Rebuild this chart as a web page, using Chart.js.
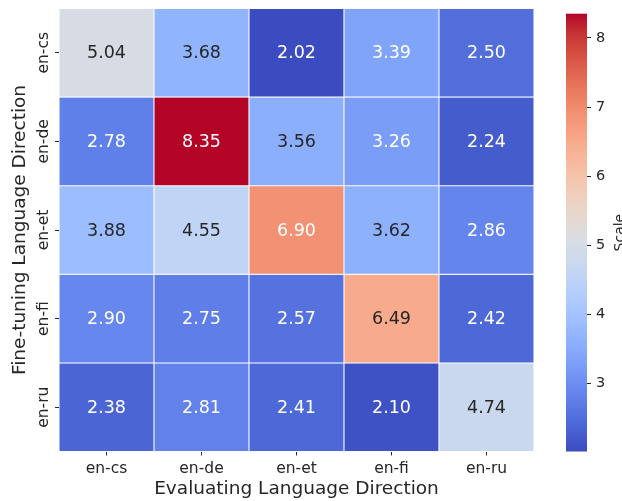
<!DOCTYPE html>
<html>
<head>
<meta charset="utf-8">
<script src="https://cdn.jsdelivr.net/npm/chart.js@4.4.1/dist/chart.umd.min.js"></script>
<style>
    html, body { margin: 0; padding: 0; background: #fff; }
    #wrap { position: relative; width: 622px; height: 501px; }
    #wrap canvas { position: absolute; left: 0; top: 0; }
</style>
</head>
<body>
<div id="wrap">
    <canvas id="heat" width="622" height="501"></canvas>
    <canvas id="cbar" width="622" height="501"></canvas>
</div>
<script>
(function () {
    // rows: fine-tuning direction, columns: evaluating direction
    var rowLabels = ['en-cs', 'en-de', 'en-et', 'en-fi', 'en-ru'];
    var colLabels = ['en-cs', 'en-de', 'en-et', 'en-fi', 'en-ru'];

    var rowCs = [5.04, 3.68, 2.02, 3.39, 2.50];
    var rowDe = [2.78, 8.35, 3.56, 3.26, 2.24];
    var rowEt = [3.88, 4.55, 6.90, 3.62, 2.86];
    var rowFi = [2.90, 2.75, 2.57, 6.49, 2.42];
    var rowRu = [2.38, 2.81, 2.41, 2.10, 4.74];
    var grid = [rowCs, rowDe, rowEt, rowFi, rowRu];

    var colorbarTicks = [3, 4, 5, 6, 7, 8];

    var TEXT = '#262626';
    var FONT = 'DejaVu Sans';

    var allValues = [].concat.apply([], grid);
    var vmin = Math.min.apply(null, allValues);
    var vmax = Math.max.apply(null, allValues);

    // coolwarm (diverging) stops
    var coolwarm = [
        [59, 76, 192], [68, 90, 204], [77, 104, 215], [87, 117, 225],
        [98, 130, 234], [108, 142, 241], [119, 154, 247], [130, 165, 251],
        [141, 176, 254], [152, 185, 255], [163, 194, 255], [174, 201, 253],
        [184, 208, 249], [194, 213, 244], [204, 217, 238], [213, 219, 230],
        [221, 221, 221], [229, 216, 209], [236, 211, 197], [241, 204, 185],
        [245, 196, 173], [247, 187, 160], [247, 177, 148], [247, 166, 135],
        [244, 154, 123], [241, 141, 111], [236, 127, 99], [229, 112, 88],
        [222, 96, 77], [213, 80, 66], [203, 62, 56], [192, 40, 47],
        [180, 4, 38]
    ];

    function cmap(t) {
        t = Math.max(0, Math.min(1, t));
        var pos = t * (coolwarm.length - 1);
        var i = Math.min(Math.floor(pos), coolwarm.length - 2);
        var f = pos - i;
        var a = coolwarm[i], b = coolwarm[i + 1];
        return [0, 1, 2].map(function (k) { return Math.round(a[k] + (b[k] - a[k]) * f); });
    }

    function rgb(c) {
        return 'rgb(' + c[0] + ',' + c[1] + ',' + c[2] + ')';
    }

    function colorFor(v) {
        return cmap((v - vmin) / (vmax - vmin));
    }

    // dark text on light cells, white on dark ones
    function luminance(c) {
        var lin = c.map(function (x) {
            x = x / 255;
            return x <= 0.03928 ? x / 12.92 : Math.pow((x + 0.055) / 1.055, 2.4);
        });
        return 0.2126 * lin[0] + 0.7152 * lin[1] + 0.0722 * lin[2];
    }

    var datasets = grid.map(function (row, i) {
        return {
            label: rowLabels[i],
            data: row.map(function () { return [i, i + 1]; }),
            backgroundColor: row.map(function (v) { return rgb(colorFor(v)); }),
            borderColor: '#ffffff',
            borderWidth: 0.85,
            borderSkipped: false,
            barPercentage: 1,
            categoryPercentage: 1,
            grouped: false
        };
    });

    var annotate = {
        id: 'annotate',
        afterDatasetsDraw: function (chart) {
            var ctx = chart.ctx;
            var xs = chart.scales.x;
            var ys = chart.scales.y;
            ctx.save();
            ctx.font = '17.5px "' + FONT + '"';
            ctx.textAlign = 'center';
            ctx.textBaseline = 'middle';
            grid.forEach(function (row, i) {
                row.forEach(function (v, j) {
                    ctx.fillStyle = luminance(colorFor(v)) > 0.408 ? TEXT : '#ffffff';
                    ctx.fillText(v.toFixed(2), xs.getPixelForValue(j), ys.getPixelForValue(i + 0.5) + 1);
                });
            });

            // rotated row labels
            ctx.fillStyle = TEXT;
            ctx.font = '15.5px "' + FONT + '"';
            ctx.textBaseline = 'alphabetic';
            rowLabels.forEach(function (lab, i) {
                ctx.save();
                ctx.translate(48, ys.getPixelForValue(i + 0.5));
                ctx.rotate(-Math.PI / 2);
                ctx.fillText(lab, 0, 0);
                ctx.restore();
            });
            ctx.restore();
        }
    };

    new Chart(document.getElementById('heat').getContext('2d'), {
        type: 'bar',
        data: { labels: colLabels, datasets: datasets },
        plugins: [annotate],
        options: {
            responsive: false,
            animation: false,
            layout: { padding: { left: 0, right: 88, top: 8.5, bottom: 0 } },
            plugins: { legend: { display: false }, tooltip: { enabled: false } },
            scales: {
                x: {
                    type: 'category',
                    afterFit: function (s) { s.height = 49.5; },
                    grid: { offset: false, drawOnChartArea: false, tickLength: 4, color: TEXT, lineWidth: 1 },
                    border: { display: false },
                    ticks: { color: TEXT, font: { family: FONT, size: 15.5 }, padding: 4, maxRotation: 0 },
                    title: {
                        display: true,
                        text: 'Evaluating Language Direction',
                        color: TEXT,
                        font: { family: FONT, size: 18.5 },
                        padding: { top: 0, bottom: 1 }
                    }
                },
                y: {
                    type: 'linear',
                    min: 0,
                    max: 5,
                    reverse: true,
                    afterFit: function (s) { s.width = 59; },
                    afterBuildTicks: function (s) {
                        s.ticks = rowLabels.map(function (r, i) { return { value: i + 0.5 }; });
                    },
                    grid: { drawOnChartArea: false, tickLength: 4, color: TEXT, lineWidth: 1 },
                    border: { display: false },
                    ticks: { display: false },
                    title: {
                        display: true,
                        text: 'Fine-tuning Language Direction',
                        color: TEXT,
                        font: { family: FONT, size: 18.5 },
                        padding: { top: 9, bottom: 0 }
                    }
                }
            }
        }
    });

    // colour bar: gradient painted along its own value scale
    var gradientFill = {
        id: 'gradientFill',
        beforeDatasetsDraw: function (chart) {
            var ctx = chart.ctx;
            var a = chart.chartArea;
            var ys = chart.scales.y;
            var y0 = ys.getPixelForValue(vmin);
            var y1 = ys.getPixelForValue(vmax);
            var g = ctx.createLinearGradient(0, y0, 0, y1);
            for (var k = 0; k <= 64; k++) {
                g.addColorStop(k / 64, rgb(cmap(k / 64)));
            }
            ctx.save();
            ctx.fillStyle = g;
            ctx.fillRect(a.left, y1, a.right - a.left, y0 - y1);

            ctx.fillStyle = TEXT;
            ctx.font = '14px "' + FONT + '"';
            ctx.textAlign = 'center';
            ctx.textBaseline = 'alphabetic';
            ctx.translate(624, (a.top + a.bottom) / 2);
            ctx.rotate(-Math.PI / 2);
            ctx.fillText('Scale', 0, 0);
            ctx.restore();
        }
    };

    new Chart(document.getElementById('cbar').getContext('2d'), {
        type: 'bar',
        data: { labels: [''], datasets: [{ data: [null] }] },
        plugins: [gradientFill],
        options: {
            responsive: false,
            animation: false,
            layout: { padding: { left: 566, right: 0, top: 8.5, bottom: 49.5 } },
            plugins: { legend: { display: false }, tooltip: { enabled: false } },
            scales: {
                x: { display: false },
                y: {
                    type: 'linear',
                    position: 'right',
                    min: vmin,
                    max: vmax,
                    afterFit: function (s) { s.width = 35; },
                    afterBuildTicks: function (s) {
                        s.ticks = colorbarTicks.map(function (v) { return { value: v }; });
                    },
                    grid: { drawOnChartArea: false, tickLength: 4, color: TEXT, lineWidth: 1 },
                    border: { display: false },
                    ticks: { color: TEXT, font: { family: FONT, size: 14.5 }, padding: 5 }
                }
            }
        }
    });
})();
</script>
</body>
</html>
